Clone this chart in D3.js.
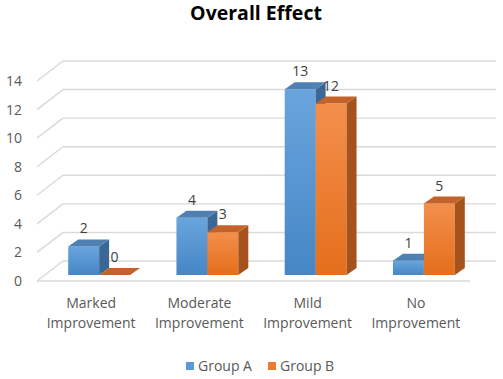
<!DOCTYPE html>
<html>
<head>
<meta charset="utf-8">
<script src="https://cdn.jsdelivr.net/npm/d3@7"></script>
<style>
  body { margin: 0; background: #fff; }
  svg { display: block; font-family: "Open Sans", sans-serif; }
</style>
</head>
<body>
<svg id="chart" width="503" height="379"></svg>
<script>
var categories = ["Marked Improvement", "Moderate Improvement", "Mild Improvement", "No Improvement"];
var series = ["Group A", "Group B"];
var groupA = [2, 4, 13, 1];
var groupB = [0, 3, 12, 5];
var yTicks = [0, 2, 4, 6, 8, 10, 12, 14];

var colors = {
    "Group A": {top: "#4f80b3", side: "#3b6794", light: "#69a5dd", dark: "#4686c6", legend: "#5b9bd5"},
    "Group B": {top: "#c3632a", side: "#a6521c", light: "#f38f4c", dark: "#e46e1b", legend: "#ed7d31"}
};

var svg = d3.select("#chart");

// floor / wall depth, and where the bars sit inside it
var wall = {dx: 26, dy: -20};
var barOff = {dx: 8, dy: -6};
var barDepth = {dx: 10, dy: -7};

var x0 = d3.scaleBand()
    .domain(categories)
    .range([37, 470])
    .paddingInner(0)
    .paddingOuter(0);

var x1 = d3.scaleBand()
    .domain(series)
    .range([0, x0.bandwidth()])
    .paddingInner(0)
    .paddingOuter(0.75);

var y = d3.scaleLinear()
    .domain([0, 14])
    .range([281, 81]);

var data = categories.map(function (c, i) {
    return {cat: c, "Group A": groupA[i], "Group B": groupB[i]};
});

// gradients for front faces
var defs = svg.append("defs");
series.forEach(function (s, i) {
    var gr = defs.append("linearGradient")
        .attr("id", "grad" + i)
        .attr("x1", 0).attr("y1", 0).attr("x2", 0).attr("y2", 1);
    gr.append("stop").attr("offset", "0%").attr("stop-color", colors[s].light);
    gr.append("stop").attr("offset", "100%").attr("stop-color", colors[s].dark);
});

// title
svg.append("text")
    .attr("x", 256)
    .attr("y", 20)
    .attr("text-anchor", "middle")
    .style("font-size", "19.5px")
    .style("font-weight", "bold")
    .style("fill", "#000")
    .text("Overall Effect");

// grid: back wall lines + side wall diagonals
var grid = svg.append("g").attr("stroke", "#d9d9d9").attr("stroke-width", 1.4).attr("fill", "none");
var xl = x0.range()[0], xr = x0.range()[1];

grid.selectAll("line.back")
    .data(yTicks)
    .enter().append("line")
    .attr("x1", xl + wall.dx)
    .attr("x2", xr + wall.dx)
    .attr("y1", function (d) { return y(d) + wall.dy; })
    .attr("y2", function (d) { return y(d) + wall.dy; });

grid.selectAll("line.side")
    .data(yTicks)
    .enter().append("line")
    .attr("x1", xl)
    .attr("x2", xl + wall.dx)
    .attr("y1", function (d) { return y(d); })
    .attr("y2", function (d) { return y(d) + wall.dy; });

grid.append("line")
    .attr("x1", xl).attr("x2", xr)
    .attr("y1", y(0)).attr("y2", y(0));

// y axis labels
var yAxis = svg.append("g")
    .attr("transform", "translate(22,0)")
    .call(d3.axisLeft(y).tickValues(yTicks).tickSize(0).tickPadding(0));
yAxis.select(".domain").remove();
yAxis.selectAll("text")
    .style("font-size", "14px")
    .style("font-family", "'Open Sans', sans-serif")
    .style("fill", "#595959");

// bars
var bars = svg.append("g");
data.forEach(function (d) {
    series.forEach(function (s, si) {
        var v = d[s];
        var bx = x0(d.cat) + x1(s) + barOff.dx;
        var bw = x1.bandwidth();
        var by = y(v) + barOff.dy;
        var b0 = y(0) + barOff.dy;
        var g = bars.append("g");
        if (b0 - by > 0) {
            g.append("rect")
                .attr("x", bx).attr("y", by)
                .attr("width", bw).attr("height", b0 - by)
                .attr("fill", "url(#grad" + si + ")");
            g.append("path")
                .attr("d", "M" + (bx + bw) + "," + by +
                    "L" + (bx + bw + barDepth.dx) + "," + (by + barDepth.dy) +
                    "L" + (bx + bw + barDepth.dx) + "," + (b0 + barDepth.dy) +
                    "L" + (bx + bw) + "," + b0 + "Z")
                .attr("fill", colors[s].side);
        }
        g.append("path")
            .attr("d", "M" + bx + "," + by +
                "L" + (bx + barDepth.dx) + "," + (by + barDepth.dy) +
                "L" + (bx + bw + barDepth.dx) + "," + (by + barDepth.dy) +
                "L" + (bx + bw) + "," + by + "Z")
            .attr("fill", colors[s].top);

        svg.append("text")
            .attr("x", bx + bw / 2)
            .attr("y", by - 13)
            .attr("text-anchor", "middle")
            .style("font-size", "14px")
            .style("fill", "#404040")
            .text(v);
    });
});

// category labels (two lines)
var catLabels = svg.append("g");
categories.forEach(function (c) {
    var words = c.split(" ");
    var t = catLabels.append("text")
        .attr("x", x0(c) + x0.bandwidth() / 2)
        .attr("y", 308)
        .attr("text-anchor", "middle")
        .style("font-size", "14px")
        .style("fill", "#595959");
    words.forEach(function (w, i) {
        t.append("tspan")
            .attr("x", x0(c) + x0.bandwidth() / 2)
            .attr("dy", i === 0 ? 0 : 20)
            .text(w);
    });
});

// legend
var legendX = [186, 268];
var legend = svg.append("g");
series.forEach(function (s, i) {
    legend.append("rect")
        .attr("x", legendX[i]).attr("y", 362)
        .attr("width", 8).attr("height", 8)
        .attr("fill", colors[s].legend);
    legend.append("text")
        .attr("x", legendX[i] + 12)
        .attr("y", 371)
        .style("font-size", "14px")
        .style("fill", "#595959")
        .text(s);
});
</script>
</body>
</html>
